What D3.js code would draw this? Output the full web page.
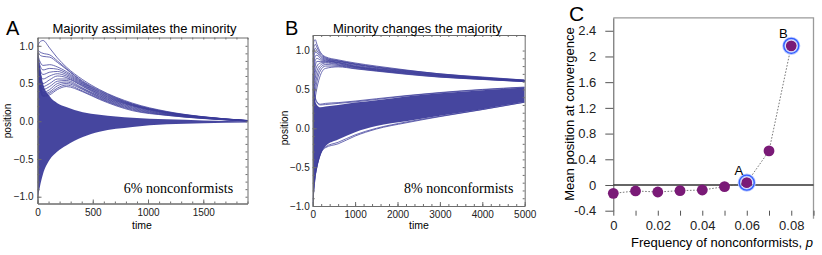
<!DOCTYPE html>
<html>
<head>
<meta charset="utf-8">
<script src="https://cdn.jsdelivr.net/npm/d3@7"></script>
<style>
body{margin:0;background:#fff}
svg{display:block}
</style>
</head>
<body>
<div id="chart"></div>
<script>
// ---- values ----

// Panel A: time grid, dense core band and the upper "hump" trajectories
var timeA = [0, 20, 50, 110, 180, 260, 410, 560, 860, 1170, 1500, 1900];
var coreTopA = [0.95, 0.75, 0.5, 0.33, 0.24, 0.19, 0.12, 0.085, 0.045, 0.025, 0.01, 0.0];
var coreBottomA = [-1.04, -0.88, -0.70, -0.51, -0.4, -0.32, -0.21, -0.14, -0.075, -0.04, -0.025, -0.015];
var humpA = [
  [0.99, 1.05, 1.07, 0.97, 0.84, 0.72, 0.55, 0.42, 0.24, 0.13, 0.06, 0.01],
  [0.95, 0.92, 0.90, 0.88, 0.80, 0.70, 0.53, 0.41, 0.23, 0.125, 0.058, 0.01],
  [0.93, 0.88, 0.86, 0.85, 0.78, 0.69, 0.52, 0.40, 0.225, 0.12, 0.056, 0.01],
  [0.90, 0.80, 0.74, 0.75, 0.72, 0.66, 0.51, 0.39, 0.22, 0.118, 0.055, 0.008],
  [0.88, 0.75, 0.68, 0.70, 0.69, 0.64, 0.50, 0.38, 0.215, 0.115, 0.054, 0.008],
  [0.86, 0.70, 0.62, 0.65, 0.66, 0.62, 0.49, 0.37, 0.21, 0.112, 0.052, 0.007],
  [0.85, 0.66, 0.56, 0.60, 0.63, 0.60, 0.48, 0.36, 0.205, 0.11, 0.05, 0.007],
  [0.83, 0.62, 0.50, 0.55, 0.60, 0.58, 0.47, 0.35, 0.20, 0.105, 0.048, 0.006],
  [0.82, 0.58, 0.46, 0.50, 0.56, 0.56, 0.46, 0.34, 0.19, 0.10, 0.046, 0.006],
  [0.80, 0.55, 0.42, 0.46, 0.53, 0.54, 0.44, 0.33, 0.18, 0.095, 0.044, 0.005],
  [0.78, 0.52, 0.38, 0.42, 0.50, 0.52, 0.43, 0.32, 0.17, 0.09, 0.042, 0.005],
  [0.76, 0.50, 0.36, 0.39, 0.47, 0.50, 0.42, 0.31, 0.16, 0.085, 0.04, 0.004],
  [0.74, 0.48, 0.34, 0.37, 0.44, 0.48, 0.40, 0.30, 0.15, 0.08, 0.038, 0.004],
  [0.70, 0.46, 0.33, 0.35, 0.42, 0.46, 0.39, 0.29, 0.14, 0.078, 0.036, 0.003]
];

// Panel B: time grid, lower cluster band, upper branch and a few stray trajectories
var timeB = [0, 30, 60, 100, 180, 300, 600, 1000, 1500, 2200, 3000, 4000, 5000];
var clusterTopB = [0.6, 0.45, 0.35, 0.3, 0.27, 0.28, 0.3, 0.33, 0.36, 0.41, 0.45, 0.49, 0.52];
var clusterBottomB = [-1.0, -0.8, -0.65, -0.52, -0.35, -0.23, -0.145, -0.05, 0.03, 0.09, 0.16, 0.245, 0.34];
var upperB = [
  [0.95, 1.12, 1.14, 1.08, 0.98, 0.92, 0.88, 0.84, 0.80, 0.75, 0.70, 0.66, 0.62],
  [0.85, 1.05, 1.08, 1.04, 0.96, 0.91, 0.87, 0.83, 0.79, 0.745, 0.70, 0.655, 0.62],
  [0.75, 0.98, 1.03, 1.00, 0.94, 0.90, 0.865, 0.825, 0.785, 0.74, 0.695, 0.65, 0.615],
  [0.65, 0.90, 0.98, 0.97, 0.92, 0.89, 0.86, 0.82, 0.78, 0.735, 0.69, 0.65, 0.615],
  [0.55, 0.82, 0.93, 0.94, 0.90, 0.88, 0.85, 0.81, 0.77, 0.73, 0.685, 0.645, 0.612],
  [0.50, 0.74, 0.87, 0.90, 0.88, 0.87, 0.845, 0.80, 0.765, 0.725, 0.68, 0.642, 0.61],
  [0.45, 0.66, 0.80, 0.86, 0.86, 0.86, 0.84, 0.795, 0.76, 0.72, 0.678, 0.64, 0.61],
  [0.40, 0.58, 0.72, 0.80, 0.84, 0.85, 0.83, 0.79, 0.755, 0.715, 0.675, 0.638, 0.607],
  [0.35, 0.50, 0.64, 0.74, 0.81, 0.84, 0.82, 0.785, 0.75, 0.71, 0.67, 0.635, 0.605],
  [0.32, 0.44, 0.56, 0.67, 0.78, 0.82, 0.81, 0.78, 0.745, 0.705, 0.665, 0.632, 0.603],
  [0.30, 0.38, 0.48, 0.60, 0.74, 0.80, 0.80, 0.77, 0.74, 0.70, 0.66, 0.63, 0.60],
  [0.28, 0.33, 0.40, 0.52, 0.68, 0.77, 0.79, 0.765, 0.735, 0.695, 0.658, 0.628, 0.60]
];
var strayB = [
  [-0.98, -0.78, -0.62, -0.50, -0.34, -0.25, -0.20, -0.10, -0.01, 0.07, 0.15, 0.24, 0.335],
  [-0.97, -0.77, -0.61, -0.49, -0.33, -0.24, -0.18, -0.085, 0.0, 0.08, 0.155, 0.242, 0.337],
  [0.70, 0.50, 0.40, 0.34, 0.31, 0.32, 0.33, 0.35, 0.38, 0.42, 0.46, 0.50, 0.53],
  [0.65, 0.48, 0.38, 0.33, 0.30, 0.305, 0.32, 0.34, 0.37, 0.415, 0.455, 0.495, 0.525]
];

// Panel C: mean position at convergence vs frequency of nonconformists
var pValues = [0, 0.01, 0.02, 0.03, 0.04, 0.05, 0.06, 0.07, 0.08];
var meanPos = [-0.13, -0.093, -0.109, -0.088, -0.078, -0.026, 0.036, 0.53, 2.165];
var circledP = [0.06, 0.08];
var circledLabel = ["A", "B"];

// tick values
var ticksA_x = [0, 500, 1000, 1500];
var ticksB_x = [0, 1000, 2000, 3000, 4000, 5000];
var ticksAB_y = [-1, -0.5, 0, 0.5, 1];
var ticksC_x = [0, 0.02, 0.04, 0.06, 0.08];
var ticksC_xMinor = [0, 0.01, 0.02, 0.03, 0.04, 0.05, 0.06, 0.07, 0.08, 0.09];
var ticksC_y = [-0.4, 0, 0.4, 0.8, 1.2, 1.6, 2, 2.4];

var sans = "'Liberation Sans', Arial, sans-serif";
var serif = "'Liberation Serif', 'Times New Roman', serif";
var traceColor = "#3c3c9a";

var svg = d3.select("#chart").append("svg")
    .attr("width", 822)
    .attr("height", 255);

function styleAxis(g, size, color) {
  g.selectAll("path").attr("stroke", color);
  g.selectAll("line").attr("stroke", color);
  g.selectAll("text").attr("font-family", sans).attr("font-size", size).attr("fill", "#222");
}

// mathematica style frame, small ticks pointing inside
function frame(g, x, y, xMajor, xStep, yPad) {
  var xr = x.range(), yr = y.range();
  var xMinor = d3.range(x.domain()[0], x.domain()[1] + 1e-9, xStep);
  var yMinor = d3.range(-1, 1.001, 0.1).filter(function(v){ return v >= y.domain()[0] - 1e-9; });
  var fmt = d3.format(".1f");
  var fc = "#6d6d6d";

  g.append("g").attr("transform", "translate(0," + yr[0] + ")")
    .call(d3.axisBottom(x).tickValues(xMinor).tickSize(-2).tickSizeOuter(0).tickFormat(""))
    .call(styleAxis, 10, fc);
  g.append("g").attr("transform", "translate(0," + yr[0] + ")")
    .call(d3.axisBottom(x).tickValues(xMajor).tickSize(-4).tickSizeOuter(0).tickPadding(5).tickFormat(d3.format("d")))
    .call(styleAxis, 10, fc);
  g.append("g").attr("transform", "translate(0," + yr[1] + ")")
    .call(d3.axisTop(x).tickValues(xMinor).tickSize(-2).tickSizeOuter(0).tickFormat(""))
    .call(styleAxis, 10, fc);
  g.append("g").attr("transform", "translate(" + xr[0] + ",0)")
    .call(d3.axisLeft(y).tickValues(yMinor).tickSize(-2).tickSizeOuter(0).tickFormat(""))
    .call(styleAxis, 10, fc);
  g.append("g").attr("transform", "translate(" + xr[0] + ",0)")
    .call(d3.axisLeft(y).tickValues(ticksAB_y).tickSize(-4).tickSizeOuter(0).tickPadding(yPad).tickFormat(fmt))
    .call(styleAxis, 10, fc);
  g.append("g").attr("transform", "translate(" + xr[1] + ",0)")
    .call(d3.axisRight(y).tickValues(yMinor).tickSize(-2).tickSizeOuter(0).tickFormat(""))
    .call(styleAxis, 10, fc);
}

function trajectories(g, id, x, y, times, band, lines) {
  var xr = x.range(), yr = y.range();
  svg.append("clipPath").attr("id", id)
    .append("rect")
    .attr("x", xr[0]).attr("y", yr[1])
    .attr("width", xr[1] - xr[0]).attr("height", yr[0] - yr[1]);

  var plot = g.append("g").attr("clip-path", "url(#" + id + ")");

  var area = d3.area()
    .x(function(d, i){ return x(times[i]); })
    .y0(function(d){ return y(d[0]); })
    .y1(function(d){ return y(d[1]); })
    .curve(d3.curveMonotoneX);

  plot.append("path")
    .datum(band)
    .attr("d", area)
    .attr("fill", traceColor)
    .attr("fill-opacity", 0.95);

  var line = d3.line()
    .x(function(d, i){ return x(times[i]); })
    .y(function(d){ return y(d); })
    .curve(d3.curveMonotoneX);

  plot.selectAll("path.trace")
    .data(lines)
    .enter()
    .append("path")
    .attr("class", "trace")
    .attr("d", line)
    .attr("fill", "none")
    .attr("stroke", traceColor)
    .attr("stroke-opacity", 0.85)
    .attr("stroke-width", 0.9);
}

// ---------------- panel A ----------------
var xA = d3.scaleLinear().domain([0, 1900]).range([37.5, 247.5]);
var yA = d3.scaleLinear().domain([-1.09, 1.11]).range([203.5, 37.5]);
var gA = svg.append("g");
var bandA = coreBottomA.map(function(v, i){ return [v, coreTopA[i]]; });
trajectories(gA, "clipA", xA, yA, timeA, bandA, humpA);
frame(gA, xA, yA, ticksA_x, 100, 4);

gA.append("text").attr("x", 144.5).attr("y", 32.5).attr("text-anchor", "middle")
  .attr("font-family", sans).attr("font-size", 13).text("Majority assimilates the minority");
gA.append("text").attr("x", 6).attr("y", 35).attr("font-family", sans).attr("font-size", 20).text("A");
gA.append("text").attr("x", 142).attr("y", 229).attr("text-anchor", "middle")
  .attr("font-family", sans).attr("font-size", 10.5).text("time");
gA.append("text").attr("transform", "translate(11,121) rotate(-90)").attr("text-anchor", "middle")
  .attr("font-family", sans).attr("font-size", 10).text("position");
gA.append("text").attr("x", 178.5).attr("y", 193.3).attr("text-anchor", "middle")
  .attr("font-family", serif).attr("font-size", 14).text("6% nonconformists");

// ---------------- panel B ----------------
var xB = d3.scaleLinear().domain([0, 5000]).range([312.7, 524.7]);
var yB = d3.scaleLinear().domain([-1, 1.2]).range([206, 35]);
var gB = svg.append("g");
var bandB = clusterBottomB.map(function(v, i){ return [v, clusterTopB[i]]; });
trajectories(gB, "clipB", xB, yB, timeB, bandB, upperB.concat(strayB));
frame(gB, xB, yB, ticksB_x, 200, 3);

gB.append("text").attr("x", 417.5).attr("y", 33).attr("text-anchor", "middle")
  .attr("font-family", sans).attr("font-size", 13).text("Minority changes the majority");
gB.append("text").attr("x", 285).attr("y", 35).attr("font-family", sans).attr("font-size", 20).text("B");
gB.append("text").attr("x", 419).attr("y", 229).attr("text-anchor", "middle")
  .attr("font-family", sans).attr("font-size", 10.5).text("time");
gB.append("text").attr("transform", "translate(288,128) rotate(-90)").attr("text-anchor", "middle")
  .attr("font-family", sans).attr("font-size", 10).text("position");
gB.append("text").attr("x", 458.7).attr("y", 193.3).attr("text-anchor", "middle")
  .attr("font-family", serif).attr("font-size", 14).text("8% nonconformists");

// ---------------- panel C ----------------
var xC = d3.scaleLinear().domain([0, 0.09]).range([613.3, 813.5]);
var yC = d3.scaleLinear().domain([-0.4, 2.6]).range([210.7, 17.9]);
var gC = svg.append("g");

// top and right border
gC.append("path")
  .attr("d", "M" + xC(0) + "," + yC(2.6) + "H" + xC(0.09) + "V" + (yC(-0.4) + 8))
  .attr("fill", "none").attr("stroke", "#9a9a9a").attr("stroke-width", 1.3);

gC.append("g").attr("transform", "translate(" + xC(0) + ",0)")
  .call(d3.axisLeft(yC).tickValues(ticksC_y).tickSize(8).tickSizeOuter(0).tickPadding(9)
    .tickFormat(function(v){ return String(v); }))
  .call(styleAxis, 13, "#555");

gC.append("g").attr("transform", "translate(0," + yC(-0.4) + ")")
  .call(d3.axisBottom(xC).tickValues(ticksC_xMinor).tickSize(5).tickPadding(5)
    .tickFormat(function(v){ return ticksC_x.some(function(t){ return Math.abs(t - v) < 1e-9; }) ? String(v) : ""; }))
  .call(styleAxis, 13, "#555")
  .call(function(g){ g.select(".domain").remove(); });

// zero line
gC.append("line")
  .attr("x1", xC(0)).attr("x2", xC(0.09))
  .attr("y1", yC(0)).attr("y2", yC(0))
  .attr("stroke", "#333").attr("stroke-width", 1.3);

var pts = pValues.map(function(p, i){ return {p: p, v: meanPos[i]}; });

gC.append("path")
  .datum(pts)
  .attr("d", d3.line().x(function(d){ return xC(d.p); }).y(function(d){ return yC(d.v); }))
  .attr("fill", "none")
  .attr("stroke", "#555")
  .attr("stroke-width", 0.8)
  .attr("stroke-dasharray", "1.6,1.6");

gC.selectAll("circle.dot")
  .data(pts)
  .enter()
  .append("circle")
  .attr("class", "dot")
  .attr("cx", function(d){ return xC(d.p); })
  .attr("cy", function(d){ return yC(d.v); })
  .attr("r", 5.4)
  .attr("fill", "#7a1a77");

var marked = circledP.map(function(p, i){
  return {p: p, v: meanPos[pValues.indexOf(p)], label: circledLabel[i]};
});

gC.selectAll("circle.halo")
  .data(marked)
  .enter()
  .append("circle")
  .attr("class", "halo")
  .attr("cx", function(d){ return xC(d.p); })
  .attr("cy", function(d){ return yC(d.v); })
  .attr("r", 7.5)
  .attr("fill", "none")
  .attr("stroke", "#b9c8ff")
  .attr("stroke-width", 3.2);

gC.selectAll("circle.ring")
  .data(marked)
  .enter()
  .append("circle")
  .attr("class", "ring")
  .attr("cx", function(d){ return xC(d.p); })
  .attr("cy", function(d){ return yC(d.v); })
  .attr("r", 7.5)
  .attr("fill", "none")
  .attr("stroke", "#2f5bff")
  .attr("stroke-width", 1.3);

gC.selectAll("text.mark")
  .data(marked)
  .enter()
  .append("text")
  .attr("class", "mark")
  .attr("x", function(d){ return xC(d.p) - 8; })
  .attr("y", function(d){ return yC(d.v) - 7.5; })
  .attr("text-anchor", "middle")
  .attr("font-family", sans)
  .attr("font-size", 13)
  .text(function(d){ return d.label; });

gC.append("text").attr("x", 569).attr("y", 21).attr("font-family", sans).attr("font-size", 21).text("C");

gC.append("text").attr("transform", "translate(574,114) rotate(-90)").attr("text-anchor", "middle")
  .attr("font-family", sans).attr("font-size", 13).text("Mean position at convergence");

var xl = gC.append("text").attr("x", 722).attr("y", 246.5).attr("text-anchor", "middle")
  .attr("font-family", sans).attr("font-size", 13);
xl.append("tspan").text("Frequency of nonconformists, ");
xl.append("tspan").attr("font-style", "italic").text("p");
</script>
</body>
</html>
